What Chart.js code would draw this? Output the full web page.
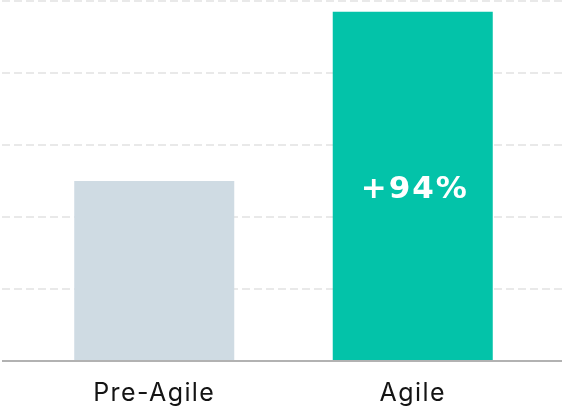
<!DOCTYPE html>
<html>
<head>
<meta charset="utf-8">
<script src="https://cdn.jsdelivr.net/npm/chart.js@4.4.1/dist/chart.umd.min.js"></script>
<style>
  html, body { margin: 0; padding: 0; background: #ffffff; }
  #wrap { width: 564px; height: 412px; position: relative; }
</style>
</head>
<body>
<div id="wrap"><canvas id="c"></canvas></div>
<script>
const categories = ['Pre-Agile', 'Agile'];
const values = [2.5, 4.85];
const barLabels = ['', '+94%'];
const barColors = ['#cfdbe3', '#03c3a9'];
const yMin = 0;
const yMax = 5;
const yStep = 1;

const FONT = 'Inter';
const LABEL_FONT = '"DejaVu Sans"';
const gridColor = '#e9e9e9';
const baseColor = '#b2b2b2';

const spacingPlugin = {
  id: 'spacing',
  beforeDraw(chart) { chart.ctx.letterSpacing = '1.4px'; }
};

const barLabelPlugin = {
  id: 'barLabels',
  afterDatasetsDraw(chart) {
    const ctx = chart.ctx;
    const meta = chart.getDatasetMeta(0);
    meta.data.forEach((bar, i) => {
      const txt = barLabels[i];
      if (!txt) return;
      ctx.save();
      ctx.letterSpacing = '2px';
      ctx.font = 'bold 31px ' + LABEL_FONT;
      ctx.fillStyle = '#ffffff';
      ctx.textAlign = 'center';
      ctx.textBaseline = 'middle';
      ctx.fillText(txt, bar.x + 2, (bar.y + bar.base) / 2 + 4);
      ctx.restore();
    });
  }
};

const isZero = (c) => c.tick && c.tick.value === 0;

new Chart(document.getElementById('c'), {
  type: 'bar',
  data: {
    labels: categories,
    datasets: [{
      data: values,
      backgroundColor: barColors,
      borderWidth: 0,
      categoryPercentage: 1,
      barPercentage: 0.619
    }]
  },
  options: {
    responsive: true,
    maintainAspectRatio: false,
    animation: false,
    devicePixelRatio: 1,
    layout: { padding: { top: 1, left: 2, right: 2, bottom: 0 } },
    plugins: { legend: { display: false }, tooltip: { enabled: false } },
    scales: {
      x: {
        grid: { display: false, drawTicks: false },
        border: { display: true, color: baseColor, width: 2, z: 1 },
        ticks: {
          color: '#141414',
          font: { family: FONT, size: 25 },
          padding: 17
        },
        afterFit(s) { s.height = 51; }
      },
      y: {
        position: 'left',
        min: yMin, max: yMax,
        ticks: { display: false, stepSize: yStep },
        grid: {
          color: (c) => isZero(c) ? baseColor : gridColor,
          lineWidth: 2,
          drawTicks: true,
          tickLength: 23,
          tickBorderDash: (c) => isZero(c) ? [] : [8, 4],
          tickBorderDashOffset: 0
        },
        border: {
          display: false,
          dash: (c) => isZero(c) ? [] : [8, 4],
          dashOffset: 11
        },
        afterFit(s) { s.width = 23; }
      },
      y2: {
        position: 'right',
        min: yMin, max: yMax,
        ticks: { display: false, stepSize: yStep },
        grid: {
          drawOnChartArea: false,
          color: (c) => isZero(c) ? baseColor : gridColor,
          lineWidth: 2,
          drawTicks: true,
          tickLength: 20,
          tickBorderDash: (c) => isZero(c) ? [] : [8, 4],
          tickBorderDashOffset: 0
        },
        border: { display: false },
        afterFit(s) { s.width = 20; }
      }
    }
  },
  plugins: [spacingPlugin, barLabelPlugin]
});
</script>
</body>
</html>
